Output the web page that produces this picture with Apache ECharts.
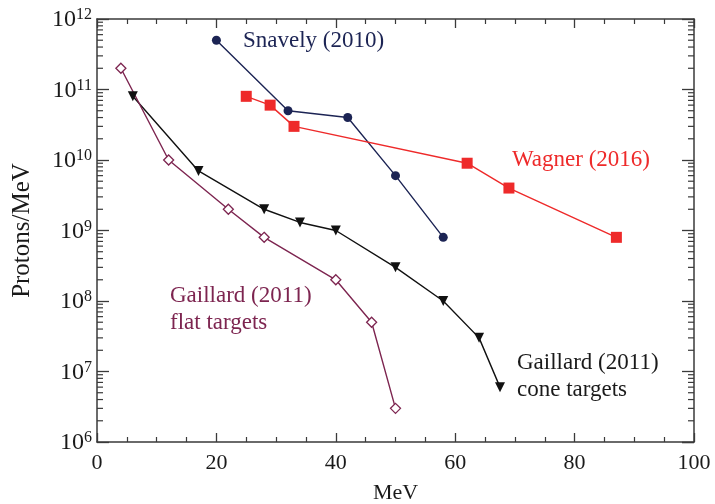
<!DOCTYPE html>
<html>
<head>
<meta charset="utf-8">
<script src="https://cdn.jsdelivr.net/npm/echarts@6/dist/echarts.min.js"></script>
<style>
  html, body { margin: 0; padding: 0; background: #fff; }
  #chart { width: 715px; height: 504px; }
</style>
</head>
<body>
<div id="chart"></div>
<script>
// Proton spectra: energy (MeV) vs. protons per MeV
const snavelyMeV = [20, 32, 42, 50, 58];
const snavelyProtons = [5e11, 5e10, 4e10, 6e9, 8e8];

const wagnerMeV = [25, 29, 33, 62, 69, 87];
const wagnerProtons = [8e10, 6e10, 3e10, 9e9, 4e9, 8e8];

const coneMeV = [6, 17, 28, 34, 40, 50, 58, 64, 67.5];
const coneProtons = [8e10, 7e9, 2e9, 1.3e9, 1e9, 3e8, 1e8, 3e7, 6e6];

const flatMeV = [4, 12, 22, 28, 40, 46, 50];
const flatProtons = [2e11, 1e10, 2e9, 8e8, 2e8, 5e7, 3e6];

const xTickValues = [0, 20, 40, 60, 80, 100];
const yDecadeExponents = [6, 7, 8, 9, 10, 11, 12];

const FONT = 'Liberation Serif';
const AXIS_COLOR = '#3a3a3a';
const NAVY = '#1c2454';
const RED = '#ee2a2a';
const BLACK = '#111111';
const MAROON = '#7d2550';

function pairs(xs, ys) { return xs.map((x, i) => [x, ys[i]]); }

// Log minor tick positions (2..9 within each decade)
const minorLogTicks = [];
yDecadeExponents.slice(0, -1).forEach(e => {
  for (let k = 2; k <= 9; k++) minorLogTicks.push([0, k * Math.pow(10, e)]);
});

const chart = echarts.init(document.getElementById('chart'), null, { renderer: 'canvas' });

const xAxisBase = {
  type: 'value',
  min: xTickValues[0],
  max: xTickValues[xTickValues.length - 1],
  interval: 20,
  axisLine: { show: true, onZero: false, lineStyle: { color: AXIS_COLOR, width: 1.5 } },
  axisTick: { show: true, inside: true, length: 9, lineStyle: { color: AXIS_COLOR, width: 1.3 } },
  minorTick: { show: true, splitNumber: 4, length: 5, lineStyle: { color: AXIS_COLOR, width: 1.2 } },
  splitLine: { show: false }
};

const yAxisBase = {
  type: 'log',
  logBase: 10,
  min: Math.pow(10, yDecadeExponents[0]),
  max: Math.pow(10, yDecadeExponents[yDecadeExponents.length - 1]),
  axisLine: { show: true, onZero: false, lineStyle: { color: AXIS_COLOR, width: 1.5 } },
  axisTick: { show: true, inside: true, length: 12, lineStyle: { color: AXIS_COLOR, width: 1.3 } },
  splitLine: { show: false }
};

function lineSeries(name, xs, ys, color, symbol, extra) {
  return Object.assign({
    name: name,
    type: 'line',
    xAxisIndex: 0,
    yAxisIndex: 0,
    data: pairs(xs, ys),
    symbol: symbol,
    symbolSize: 10,
    showAllSymbol: true,
    lineStyle: { color: color, width: 1.4 },
    itemStyle: { color: color },
    z: 5
  }, extra || {});
}

const option = {
  backgroundColor: '#ffffff',
  animation: false,
  grid: { left: 97, right: 21, top: 19, bottom: 62, containLabel: false, outerBoundsMode: 'none' },
  xAxis: [
    Object.assign({}, xAxisBase, {
      position: 'bottom',
      name: 'MeV',
      nameLocation: 'middle',
      nameGap: 40,
      nameTextStyle: { fontFamily: FONT, fontSize: 22, color: '#1a1a1a' },
      axisLabel: { fontFamily: FONT, fontSize: 22, color: '#1a1a1a', margin: 10 }
    }),
    Object.assign({}, xAxisBase, {
      position: 'top',
      axisLabel: { show: false }
    })
  ],
  yAxis: [
    Object.assign({}, yAxisBase, {
      position: 'left',
      name: 'Protons/MeV',
      nameLocation: 'middle',
      nameGap: 62,
      nameRotate: 90,
      nameTextStyle: { fontFamily: FONT, fontSize: 25, color: '#1a1a1a' },
      axisLabel: {
        margin: 5,
        padding: [2, 0, 0, 0],
        formatter: function (v) {
          const e = Math.round(Math.log10(v));
          return '{b|10}{s|' + e + '}';
        },
        rich: {
          b: { fontFamily: FONT, fontSize: 24, color: '#1a1a1a' },
          s: { fontFamily: FONT, fontSize: 16, color: '#1a1a1a', padding: [0, 0, 10, 0] }
        }
      }
    }),
    Object.assign({}, yAxisBase, {
      position: 'right',
      axisLabel: { show: false }
    })
  ],
  series: [
    {
      type: 'custom',
      name: 'minorLogTicks',
      xAxisIndex: 0,
      yAxisIndex: 0,
      silent: true,
      clip: false,
      data: minorLogTicks,
      renderItem: function (params, api) {
        const v = api.value(1);
        const pl = api.coord([xTickValues[0], v]);
        const pr = api.coord([xTickValues[xTickValues.length - 1], v]);
        const st = { stroke: AXIS_COLOR, lineWidth: 1.2 };
        return {
          type: 'group',
          children: [
            { type: 'line', shape: { x1: pl[0], y1: pl[1], x2: pl[0] + 6, y2: pl[1] }, style: st },
            { type: 'line', shape: { x1: pr[0], y1: pr[1], x2: pr[0] - 6, y2: pr[1] }, style: st }
          ]
        };
      },
      z: 1
    },
    lineSeries('Snavely (2010)', snavelyMeV, snavelyProtons, NAVY, 'circle', { symbolSize: 9 }),
    lineSeries('Wagner (2016)', wagnerMeV, wagnerProtons, RED, 'rect', { symbolSize: 11 }),
    lineSeries('Gaillard (2011) cone targets', coneMeV, coneProtons, BLACK, 'triangle', { symbolRotate: 180, symbolSize: 10 }),
    lineSeries('Gaillard (2011) flat targets', flatMeV, flatProtons, MAROON, 'diamond', {
      symbolSize: 10,
      itemStyle: { color: '#ffffff', borderColor: MAROON, borderWidth: 1.3 }
    })
  ],
  graphic: [
    { type: 'text', left: 243, top: 29, style: { text: 'Snavely (2010)', fill: NAVY, font: '23px "' + FONT + '"' } },
    { type: 'text', left: 512, top: 148, style: { text: 'Wagner (2016)', fill: RED, font: '23px "' + FONT + '"' } },
    { type: 'text', left: 170, top: 282, style: { text: 'Gaillard (2011)\nflat targets', fill: MAROON, font: '23px "' + FONT + '"', lineHeight: 27 } },
    { type: 'text', left: 517, top: 349, style: { text: 'Gaillard (2011)\ncone targets', fill: '#1a1a1a', font: '23px "' + FONT + '"', lineHeight: 27 } }
  ]
};

chart.setOption(option);
</script>
</body>
</html>
